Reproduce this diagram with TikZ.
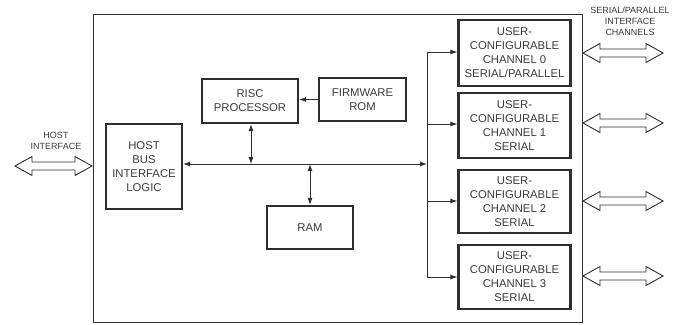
\documentclass[tikz,border=0pt]{standalone}
\usepackage{fontspec}
\setmainfont{Liberation Sans}
\usetikzlibrary{arrows.meta}
\definecolor{ink}{HTML}{2E2E2E}
\definecolor{txt}{HTML}{3A3A3A}
\newcommand\hollowarrow[3]{%
  \draw[harrow] (#1,#3) -- (#1+17,#3-9.5) -- (#1+17,#3-4) -- (#2-17,#3-4) -- (#2-17,#3-9.5) -- (#2,#3)
    -- (#2-17,#3+9.5) -- (#2-17,#3+4) -- (#1+17,#3+4) -- (#1+17,#3+9.5) -- cycle;}
\begin{document}
\begin{tikzpicture}[x=1pt,y=-1pt,
  blk/.style={draw=ink,line width=2.2pt,align=center,text=txt,inner sep=0pt,
    font=\fontsize{11.3}{14}\selectfont},
  lbl/.style={align=center,text=txt,inner sep=0pt,font=\fontsize{9}{11}\selectfont},
  conn/.style={draw=ink,line width=0.9pt},
  arr/.style={conn,-{Latex[length=7pt,width=5pt]}},
  darr/.style={conn,{Latex[length=7pt,width=5pt]}-{Latex[length=7pt,width=5pt]}},
  harrow/.style={draw=ink,line width=0.9pt,fill=white,line join=miter}]
\useasboundingbox (0,0) rectangle (680,324);
\node[draw=ink,line width=0.9pt,minimum width=489pt,minimum height=308pt,inner sep=0pt] (chip) at (337.5,168) {};
\node[blk,minimum width=76pt,minimum height=85pt] (host) at (144,166.5) {HOST\\BUS\\INTERFACE\\LOGIC};
\node[blk,minimum width=96pt,minimum height=44pt] (risc) at (250,101) {RISC\\PROCESSOR};
\node[blk,minimum width=87pt,minimum height=43pt] (fw) at (362.5,99.5) {FIRMWARE\\ROM};
\node[blk,minimum width=86pt,minimum height=43pt] (ram) at (310,227.5) {RAM};
\node[blk,minimum width=112pt,minimum height=66pt] (ch0) at (514.5,53) {USER-\\CONFIGURABLE\\CHANNEL 0\\SERIAL/PARALLEL};
\node[blk,minimum width=112pt,minimum height=65pt] (ch1) at (514.5,125.5) {USER-\\CONFIGURABLE\\CHANNEL 1\\SERIAL};
\node[blk,minimum width=112pt,minimum height=63pt] (ch2) at (514.5,201.5) {USER-\\CONFIGURABLE\\CHANNEL 2\\SERIAL};
\node[blk,minimum width=112pt,minimum height=64pt] (ch3) at (514.5,277) {USER-\\CONFIGURABLE\\CHANNEL 3\\SERIAL};
\node[lbl] (hostlbl) at (56,141) {HOST\\INTERFACE};
\node[lbl] (chlbl) at (630,21) {SERIAL/PARALLEL\\INTERFACE\\CHANNELS};
% bus
\coordinate (busR) at (427,164);
\coordinate (vtop) at (427,52);
\coordinate (vbot) at (427,277);
\draw[darr] (host.east |- busR) -- (busR);
\draw[conn] (vtop) -- (vbot);
\draw[darr] (risc.south -| 251,0) -- (251,164);
\draw[darr] (310,164) -- (ram.north);
\draw[arr] (fw.west) -- (fw.west -| risc.east);
\draw[arr] (vtop) -- (vtop -| ch0.west);
\draw[arr] (427,124) -- (ch1.west |- 0,124);
\draw[arr] (427,201) -- (ch2.west |- 0,201);
\draw[arr] (vbot) -- (vbot -| ch3.west);
% interface arrows
\hollowarrow{15}{92}{166}
\hollowarrow{583}{663}{53}
\hollowarrow{583}{663}{123}
\hollowarrow{583}{663}{201}
\hollowarrow{583}{663}{276}
\end{tikzpicture}
\end{document}
